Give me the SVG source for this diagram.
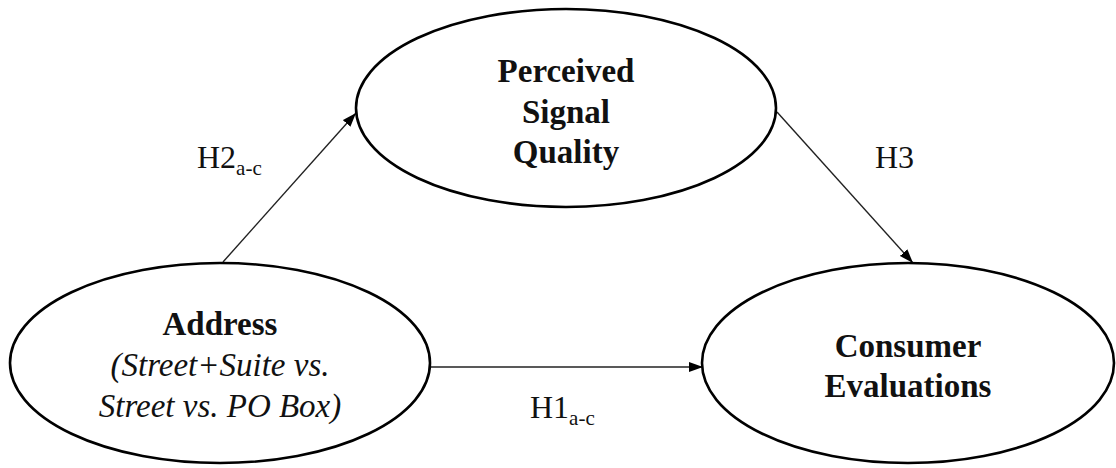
<svg xmlns="http://www.w3.org/2000/svg" width="1116" height="468" viewBox="0 0 1116 468">
<style>
.node{fill:#fff;stroke:#000;stroke-width:2.6}
.t{font-family:"Liberation Serif","Times New Roman",serif;fill:#111;text-anchor:middle}
.b{font-weight:bold;font-size:33px}
.i{font-style:italic;font-size:33px}
.lbl{font-family:"Liberation Serif","Times New Roman",serif;fill:#111;font-size:32px}
.sub{font-size:21px}
.edge{stroke:#222;stroke-width:1.4;fill:none;marker-end:url(#ah)}
</style>
<defs>
<marker id="ah" markerUnits="userSpaceOnUse" markerWidth="14" markerHeight="10" refX="14" refY="5" orient="auto">
<path d="M0,0 L14,5 L0,10 Z" fill="#000"/>
</marker>
</defs>
<rect width="1116" height="468" fill="#fff"/>
<g id="connectors">
<line class="edge" x1="223" y1="262" x2="356" y2="113"/>
<line class="edge" x1="777" y1="112" x2="913" y2="263"/>
<line class="edge" x1="431" y1="367" x2="703" y2="367"/>
</g>
<g id="perceived">
<ellipse class="node" cx="566" cy="108" rx="210" ry="99"/>
<text class="t b" x="566" y="82">Perceived</text>
<text class="t b" x="566" y="123">Signal</text>
<text class="t b" x="566" y="163">Quality</text>
</g>
<g id="address">
<ellipse class="node" cx="220" cy="363" rx="210" ry="100"/>
<text class="t b" x="220" y="335">Address</text>
<text class="t i" x="220" y="376">(Street+Suite vs.</text>
<text class="t i" x="220" y="417">Street vs. PO Box)</text>
</g>
<g id="consumer">
<ellipse class="node" cx="908" cy="363" rx="206" ry="100"/>
<text class="t b" x="908" y="357">Consumer</text>
<text class="t b" x="908" y="397">Evaluations</text>
</g>
<g id="labels">
<text class="lbl" x="197" y="168">H2<tspan class="sub" dy="7">a-c</tspan></text>
<text class="lbl" x="875" y="168">H3</text>
<text class="lbl" x="530" y="418">H1<tspan class="sub" dy="7">a-c</tspan></text>
</g>
</svg>
